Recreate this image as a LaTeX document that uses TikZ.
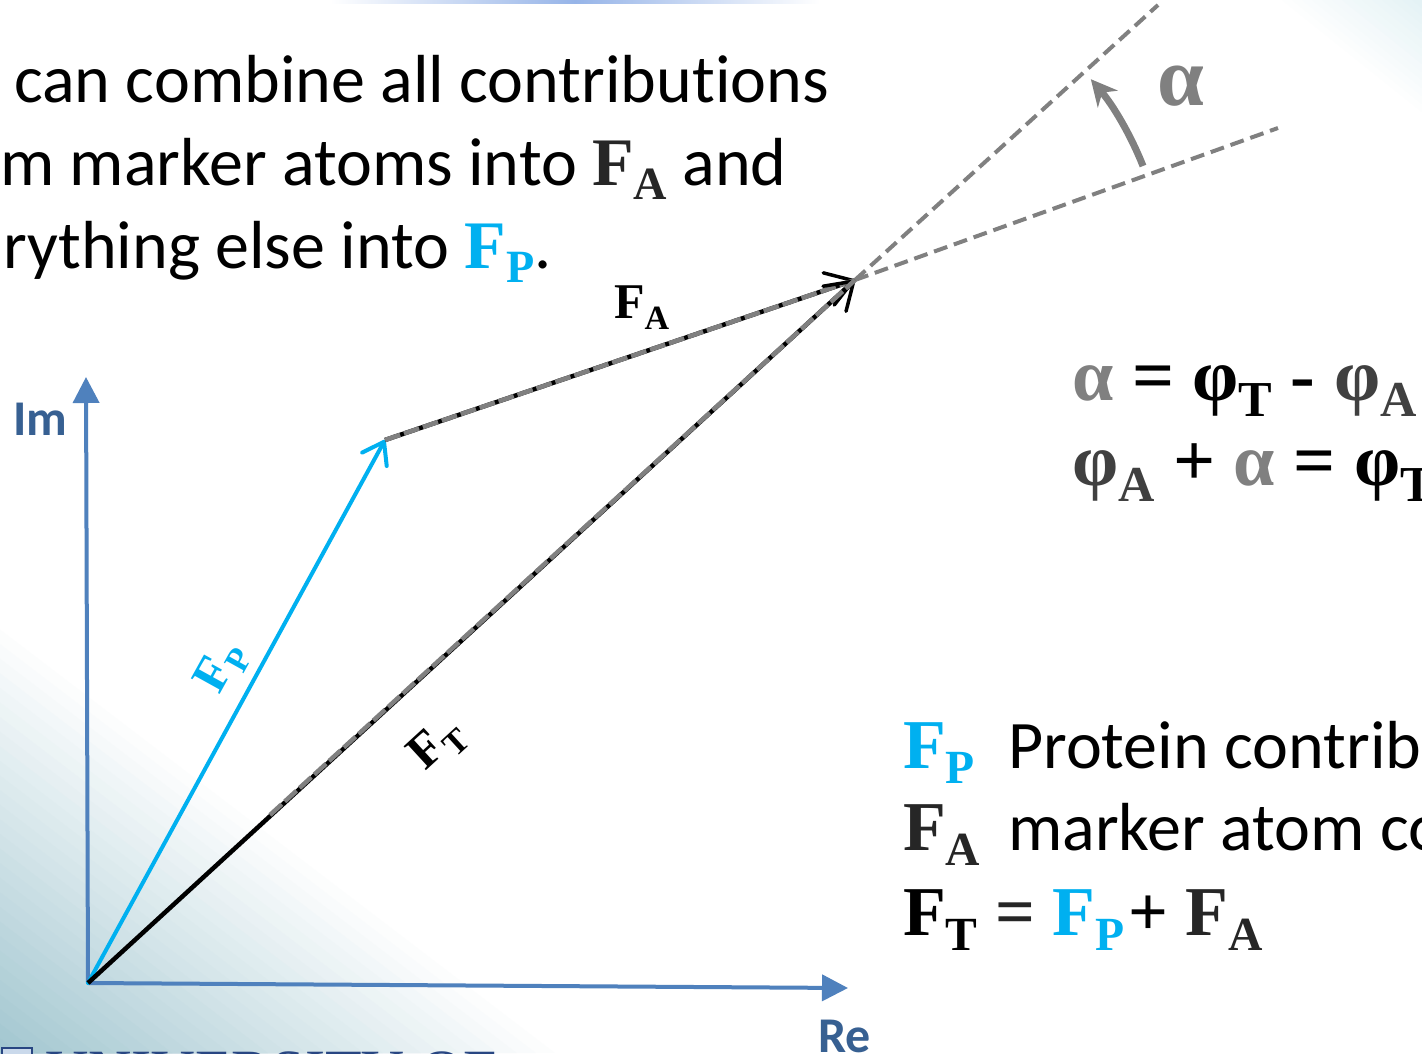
\documentclass[tikz,border=0pt]{standalone}
\usepackage{fontspec}
\usepackage{graphicx}
\setmainfont{Carlito}[Ligatures=NoCommon]
\newfontfamily\tnr{Liberation Serif}
\usetikzlibrary{arrows.meta}
\definecolor{axisblue}{RGB}{79,129,189}
\definecolor{labblue}{RGB}{55,96,146}
\definecolor{fpcyan}{RGB}{0,176,240}
\definecolor{fadark}{RGB}{38,38,38}
\definecolor{midgray}{RGB}{128,128,128}
\definecolor{phigray}{RGB}{64,64,64}
\definecolor{bgteal}{RGB}{160,197,207}
\definecolor{bgpale}{RGB}{226,241,244}
\definecolor{topblue}{RGB}{150,180,232}
\definecolor{unidark}{RGB}{40,70,130}
\newcommand{\lowsub}[1]{\raisebox{-0.22em}{\scalebox{0.68}{#1}}}
\newcommand{\vsym}[3]{{\color{#1}\tnr\bfseries #2\lowsub{#3}}}
\begin{document}
\begin{tikzpicture}[x=1pt,y=-1pt,
  txt/.style={inner sep=0pt, anchor=base west, font=\fontsize{68}{83}\selectfont},
  eqn/.style={inner sep=0pt, anchor=base west, font=\tnr\bfseries\fontsize{74}{80}\selectfont},
  leg/.style={inner sep=0pt, anchor=base west, font=\tnr\bfseries\fontsize{70}{80}\selectfont},
  lab/.style={inner sep=0pt, font=\tnr\bfseries\fontsize{50}{56}\selectfont},
  axlab/.style={inner sep=0pt, anchor=base west, text=labblue, font=\bfseries\fontsize{50}{56}\selectfont},
  axisline/.style={axisblue, line width=4pt, -{Triangle[length=26pt,width=26pt]}},
  fpvec/.style={fpcyan, line width=4pt, line cap=round, -{Straight Barb[length=20pt,width=28pt,round]}},
  blkvec/.style={black, line width=4.5pt, -{Straight Barb[length=26pt,width=34pt,round,line width=3.5pt]}},
  grayover/.style={midgray, line width=4.5pt, dash pattern=on 16pt off 4pt},
  extline/.style={midgray, line width=4pt, dash pattern=on 14pt off 7pt},
  anglearrow/.style={midgray, line width=7pt, -{Stealth[length=26pt,width=26pt]}}
]
\useasboundingbox (0,0) rectangle (1422,1053);
\clip (0,0) rectangle (1422,1053);
\fill[white] (0,0) rectangle (1422,1053);
% background gradients
\foreach \i in {0,...,29}{
  \pgfmathsetmacro\t{1-\i/30}
  \pgfmathsetmacro\p{100*\i/30}
  \fill[bgteal!\p!white] (0,1053) -- (0,{1053-438*\t}) -- ({574*\t},1053) -- cycle;
}
\foreach \i in {0,...,14}{
  \pgfmathsetmacro\t{1-\i/15}
  \pgfmathsetmacro\p{100*\i/15}
  \fill[bgpale!\p!white] (1422,0) -- ({1422-150*\t},0) -- (1422,{120*\t}) -- cycle;
}
\shade[left color=white, right color=white, middle color=topblue] (330,0) rectangle (820,3);

% coordinates
\coordinate (O) at (88,983);
\coordinate (ImT) at (86,377);
\coordinate (ReT) at (848,988);
\coordinate (P) at (385,440);
\coordinate (T) at (855,280);
\coordinate (Ts) at (270,815);
\coordinate (E1) at (1158,5);
\coordinate (E2) at (1278,128);
\coordinate (A1) at (1143,166);

% text at top
\node[txt] (l1) at (14,102) {can combine all contributions};
\node[txt] (l2) at (0,185) {m marker atoms into \vsym{fadark}{F}{A} and};
\node[txt] (l3) at (3,268) {rything else into \vsym{fpcyan}{F}{P}.};

% extension lines and angle
\draw[extline] (T) -- (E1);
\draw[extline] (T) -- (E2);
\draw[anglearrow] (A1) arc[start angle=-21.6, end angle=-40.4, radius=310];
\node[inner sep=0pt, anchor=base west, text=midgray, font=\tnr\bfseries\fontsize{84}{90}\selectfont] (alpha) at (1157,105) {α};

% axes
\draw[axisline] (O) -- (ImT);
\draw[axisline] (O) -- (ReT);
\node[axlab] (im) at (13,435) {Im};
\node[axlab] (re) at (818,1052) {Re};

% vectors
\draw[fpvec] (O) -- (P);
\draw[blkvec] (P) -- (T);
\draw[grayover] (P) -- (T);
\draw[blkvec] (O) -- (T);
\draw[grayover] (Ts) -- (T);

\node[lab, anchor=base west] (laFA) at (614,318) {\vsym{black}{F}{A}};
\node[lab, rotate=61] (laFP) at (222,668) {\vsym{fpcyan}{F}{P}};
\node[lab, rotate=42.5] (laFT) at (438,745) {\vsym{black}{F}{T}};

% equations
\node[eqn] (eq1) at (1072,400) {{\color{midgray}α} = φ\lowsub{T} - {\color{phigray}φ\lowsub{A}}};
\node[eqn] (eq2) at (1072,485) {{\color{phigray}φ\lowsub{A}} + {\color{midgray}α} = φ\lowsub{T}};

% legend
\node[leg] (lgP) at (903,768) {\vsym{fpcyan}{F}{P}};
\node[txt] (lgPt) at (1008,768) {Protein contrib};
\node[leg] (lgA) at (903,850) {\vsym{fadark}{F}{A}};
\node[txt] (lgAt) at (1008,850) {marker atom co};
\node[leg] (lgT) at (903,935) {\vsym{black}{F}{T} {\color{fadark}=} \vsym{fpcyan}{F}{P}\kern4pt+ \vsym{fadark}{F}{A}};

% university logo fragment
\node[draw=unidark, line width=2pt, fill=axisblue!30, minimum width=30pt, minimum height=14pt, inner sep=0pt, anchor=north west] (logo) at (1,1047) {};
\node[inner sep=0pt, anchor=base west, text=unidark, font=\tnr\fontsize{60}{66}\selectfont] (uni) at (45,1091) {UNIVERSITY OF};
\end{tikzpicture}
\end{document}
